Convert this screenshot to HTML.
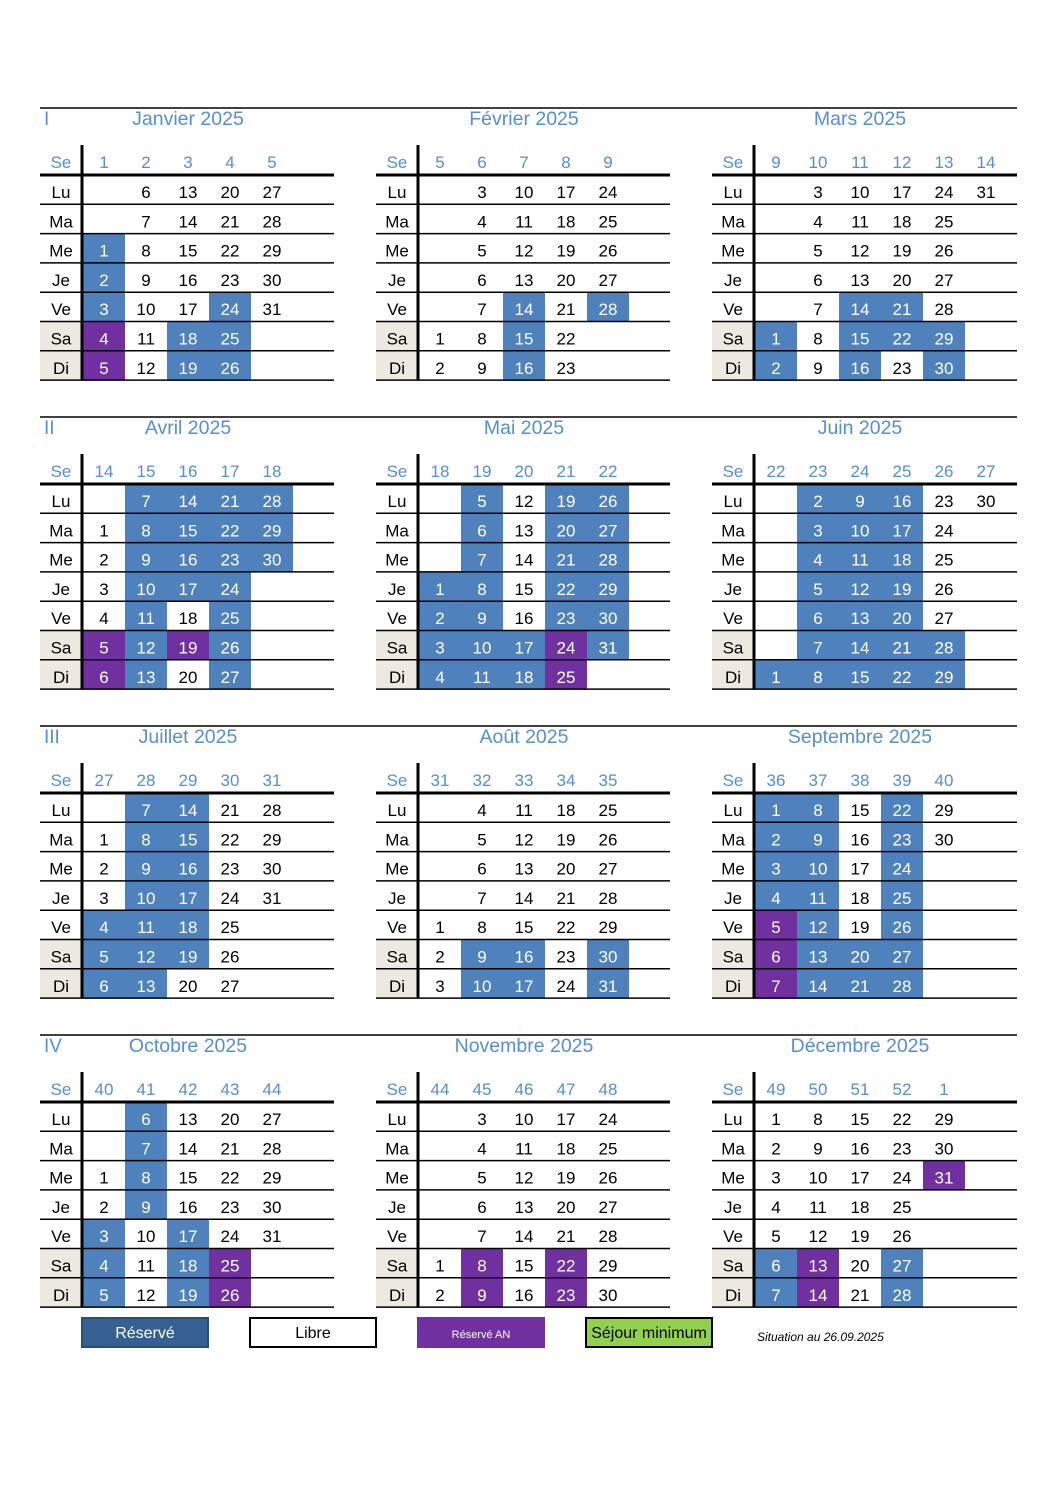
<!DOCTYPE html>
<html><head><meta charset="utf-8">
<style>
body{margin:0;background:#fff;}
svg{display:block;font-family:"Liberation Sans",sans-serif;}
</style></head>
<body>
<svg id="cal" width="1058" height="1497" viewBox="0 0 1058 1497" xmlns="http://www.w3.org/2000/svg"></svg>
<script>
const monthNames=["Janvier 2025","Février 2025","Mars 2025","Avril 2025","Mai 2025","Juin 2025","Juillet 2025","Août 2025","Septembre 2025","Octobre 2025","Novembre 2025","Décembre 2025"];
const weekNums=[[1,2,3,4,5],[5,6,7,8,9],[9,10,11,12,13,14],[14,15,16,17,18],[18,19,20,21,22],[22,23,24,25,26,27],[27,28,29,30,31],[31,32,33,34,35],[36,37,38,39,40],[40,41,42,43,44],[44,45,46,47,48],[49,50,51,52,1]];
const blueDays=[[1,2,3,24,18,25,19,26],[14,15,16,28],[1,2,14,21,15,22,29,16,30],[7,14,21,28,8,15,22,29,9,16,23,30,10,17,24,11,25,12,26,13,27],[5,6,7,19,26,20,27,21,28,1,8,22,29,2,9,23,30,3,10,17,31,4,11,18],[1,2,9,16,3,10,17,4,11,18,5,12,19,6,13,20,7,14,21,28,8,15,22,29],[7,14,8,15,9,16,10,17,4,11,18,5,12,19,6,13],[9,16,30,10,17,31],[1,8,22,2,9,23,3,10,24,4,11,25,12,26,13,20,27,14,21,28],[6,7,8,9,3,17,4,18,5,19],[],[6,7,27,28]];
const purpleDays=[[4,5],[],[],[5,6,19],[24,25],[],[],[],[5,6,7],[25,26],[8,9,22,23],[31,13,14]];
const quarters=["I","II","III","IV"];
const dayLabels=["Lu","Ma","Me","Je","Ve","Sa","Di"];
const svg=document.getElementById('cal');
const NS="http://www.w3.org/2000/svg";
function mk(tag,attrs,parent){const e=document.createElementNS(NS,tag);for(const k in attrs)e.setAttribute(k,attrs[k]);(parent||svg).appendChild(e);return e;}
const HDR="#558ed5",BLUE="#4f81bd",PURP="#7030a0";
const ROWH=29.3;
for(let q=0;q<4;q++){
  const oy=q*309;
  const ql=mk('line',{x1:40,x2:1017,y1:108+oy,y2:108+oy,stroke:'#000','stroke-width':1.5});
  
  
  const qt=mk('text',{x:44,y:125+oy,fill:HDR,'font-size':19});
  qt.textContent=quarters[q];
  
  
  for(let c=0;c<3;c++){
    const m=q*3+c;const ox=40+c*336;
    const g=mk('g',{});
    
    
    const t=mk('text',{x:ox+148,y:125+oy,fill:HDR,'font-size':19.5,'text-anchor':'middle'},g);
    t.textContent=monthNames[m];
    
    
    const weeks=weekNums[m];
    const right=c===2?1017:ox+294;
    const start=(new Date(2025,m,1).getDay()+6)%7;
    const ndays=new Date(2025,m+1,0).getDate();
    for(let r=5;r<7;r++){mk('rect',{x:ox,y:175+oy+r*ROWH,width:42,height:ROWH,fill:'#ece9e0'},g);}
    for(let d=1;d<=ndays;d++){
      const idx=start+d-1,col=Math.floor(idx/7),row=idx%7;
      const x=ox+43+col*42,y=175+oy+row*ROWH;
      let fill=null;
      if(blueDays[m].includes(d))fill=BLUE;
      if(purpleDays[m].includes(d))fill=PURP;
      if(fill){const rc=mk('rect',{x:x,y:y,width:42,height:ROWH,fill:fill},g);
        
        }
      const tx=mk('text',{x:x+21,y:y+23,'font-size':17,'text-anchor':'middle',fill:fill?'#fff':'#000'},g);
      tx.textContent=d;
      
      
    }
    const se=mk('text',{x:ox+21,y:168+oy,'font-size':17,'text-anchor':'middle',fill:HDR},g);
    se.textContent="Se";
    
    
    weeks.forEach((w,i)=>{const wt=mk('text',{x:ox+64+i*42,y:168+oy,'font-size':17,'text-anchor':'middle',fill:HDR},g);
      wt.textContent=w;
      
      });
    dayLabels.forEach((dl,r)=>{const lt=mk('text',{x:ox+21,y:175+oy+r*ROWH+23,'font-size':17,'text-anchor':'middle',fill:'#000'},g);
      lt.textContent=dl;
      
      
      mk('line',{x1:ox,x2:right,y1:175+oy+(r+1)*ROWH,y2:175+oy+(r+1)*ROWH,stroke:'#000','stroke-width':1.5},g);});
    mk('line',{x1:ox,x2:right,y1:175+oy,y2:175+oy,stroke:'#000','stroke-width':3},g);
    mk('line',{x1:ox+42,x2:ox+42,y1:145+oy,y2:175+oy+7*ROWH,stroke:'#000','stroke-width':3},g);
  }
}
const leg=[["Réservé","#366092","#fff","#2a4d75",16,'legend-reserved'],["Libre","#fff","#000","#000",16,'legend-libre'],["Réservé AN",PURP,"#fff",PURP,11,'legend-reserved-an'],["Séjour minimum","#92d050","#000","#000",16,'legend-sejour-minimum']];
leg.forEach((l,i)=>{const x=82+i*168;
  const g=mk('g',{});
  
  
  mk('rect',{x:x,y:1318,width:126,height:29,fill:l[1],stroke:l[3],'stroke-width':2},g);
  const t=mk('text',{x:x+63,y:1338,'font-size':l[4],'text-anchor':'middle',fill:l[2]},g);
  t.textContent=l[0];});
const sit=mk('text',{x:757,y:1341,'font-size':12,'font-style':'italic',fill:'#000'});
sit.textContent="Situation au 26.09.2025";


</script>
</body></html>
